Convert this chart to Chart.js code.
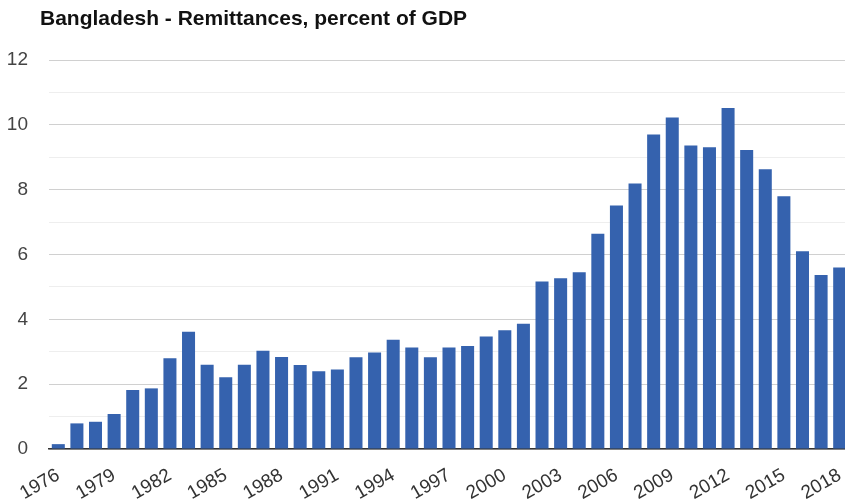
<!DOCTYPE html>
<html>
<head>
<meta charset="utf-8">
<script src="https://cdn.jsdelivr.net/npm/chart.js@4"></script>
<style>
  html, body { margin: 0; padding: 0; background: #fff; overflow: hidden; }
  #wrap { position: relative; width: 849px; height: 503px; }
  #title {
    position: absolute; left: 40px; top: 6px;
    font: bold 21px Arial, "Liberation Sans", sans-serif; color: #111;
  }
</style>
</head>
<body>
<div id="wrap">
  <div id="title">Bangladesh - Remittances, percent of GDP</div>
  <canvas id="chart" width="849" height="503"></canvas>
</div>
<script>
// years shown on the x axis
const years = [];
for (let y = 1976; y <= 2018; y++) years.push(String(y));

// remittances, percent of GDP
const remittances = [
  0.15, 0.79, 0.84, 1.08, 1.82, 1.87, 2.80, 3.62, 2.60, 2.21,
  2.60, 3.03, 2.84, 2.59, 2.40, 2.45, 2.83, 2.98, 3.37, 3.13,
  2.83, 3.13, 3.18, 3.47, 3.66, 3.86, 5.17, 5.27, 5.45, 6.64,
  7.51, 8.19, 9.70, 10.23, 9.36, 9.31, 10.52, 9.22, 8.63, 7.80,
  6.10, 5.37, 5.60
];

const yTicks = [0, 2, 4, 6, 8, 10, 12];

const family = 'Arial, "Liberation Sans", sans-serif';

const ctx = document.getElementById('chart').getContext('2d');
const chart = new Chart(ctx, {
  type: 'bar',
  data: {
    labels: years,
    datasets: [{
      data: remittances,
      backgroundColor: '#3562ae',
      categoryPercentage: 1.0,
      barPercentage: 0.7
    }]
  },
  options: {
    responsive: false,
    animation: false,
    layout: { padding: { top: 60, left: 7, right: 0, bottom: 0 } },
    plugins: {
      legend: { display: false },
      tooltip: { enabled: false }
    },
    scales: {
      x: {
        grid: { display: false, drawTicks: false },
        border: { display: true, color: '#333', width: 1.5 },
        ticks: {
          autoSkip: false,
          minRotation: 30,
          maxRotation: 30,
          padding: 15,
          color: '#333',
          font: { family: family, size: 19 },
          callback: function (val, i) { return i % 3 === 0 ? years[i] : ''; }
        },
        // rotated labels fit anyway, keep the plot flush to the edges
        afterFit: function (scale) {
          scale.paddingLeft = 0;
          scale.paddingRight = 0;
          scale.height = 54;
        }
      },
      y: {
        min: 0,
        max: 12,
        border: { display: false },
        grid: {
          drawTicks: false,
          color: function (c) { return c.tick.value % 2 === 0 ? '#d0d0d0' : '#eeeeee'; }
        },
        ticks: {
          stepSize: 1,
          padding: 21,
          color: '#444',
          font: { family: family, size: 19 },
          callback: function (v) { return yTicks.includes(v) ? v : ''; }
        },
        afterFit: function (scale) { scale.width = 42; }
      }
    }
  }
});
</script>
</body>
</html>
